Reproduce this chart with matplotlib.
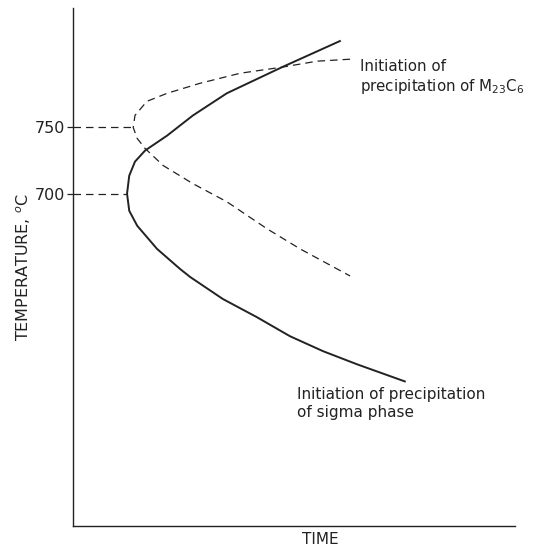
import matplotlib.pyplot as plt

# sigma phase start curve (time in arbitrary units, temperature in deg C)
sigma_time = [60.4, 47.3, 34.8, 27.1, 21.3, 16.3, 14.0, 12.7, 12.2, 12.7, 14.5, 19.0,
              24.2, 26.5, 33.9, 41.6, 49.1, 56.6, 64.3, 75.1]
sigma_temp = [815.2, 795.5, 775.8, 759.0, 743.9, 732.6, 724.2, 713.6, 700, 687.1, 675.8, 658.3,
              643.2, 637.1, 620.5, 606.8, 592.4, 581.1, 571.2, 558.3]

# M23C6 start curve
carb_time = [62.7, 55.2, 47.3, 37.8, 28.7, 21.3, 16.7, 14.0, 13.6, 14.5, 16.3, 20.4,
             27.1, 34.8, 43.9, 51.4, 62.7]
carb_temp = [801.5, 800, 795.5, 790.9, 783.3, 775.8, 769.7, 759.1, 750, 741.7, 734.1, 721.2,
             707.6, 693.9, 673.5, 658.3, 637.9]

# nose positions marked on the temperature axis
nose_temp = [750, 700]
nose_time = [13.6, 12.2]

ink = '#222222'
plt.rcParams['font.family'] = ['DejaVu Sans']

fig = plt.figure(figsize=(5.34, 5.47), dpi=100)
ax = fig.add_axes([0.137, 0.038, 0.827, 0.947])

ax.plot(sigma_time, sigma_temp, color=ink, lw=1.4, solid_joinstyle='round')
ax.plot(carb_time, carb_temp, color=ink, lw=0.9, dashes=(6, 4))
for t, T in zip(nose_time, nose_temp):
    ax.plot([0, t], [T, T], color=ink, lw=0.9, dashes=(6, 4))

ax.set_xlim(0, 100)
ax.set_ylim(449, 840)
ax.set_xticks([])
ax.set_yticks(nose_temp)
ax.set_yticklabels([str(v) for v in nose_temp], fontsize=11.5, color=ink)
ax.tick_params(axis='y', direction='out', length=4, width=0.9, color=ink, pad=2)
for side in ['top', 'right']:
    ax.spines[side].set_visible(False)
for side in ['left', 'bottom']:
    ax.spines[side].set_color(ink)
    ax.spines[side].set_linewidth(1.0)

ax.set_ylabel('TEMPERATURE, $^o$C', fontsize=11.5, color=ink)
ax.yaxis.set_label_coords(-0.09, 0.50)
ax.set_xlabel('TIME', fontsize=11, color=ink)
ax.xaxis.set_label_coords(0.56, -0.012)

ax.text(64.9, 801.5, 'Initiation of\nprecipitation of M$_{23}$C$_6$',
        fontsize=10.8, color=ink, va='top', ha='left', linespacing=1.2)
ax.text(50.7, 554, 'Initiation of precipitation\nof sigma phase',
        fontsize=11, color=ink, va='top', ha='left', linespacing=1.25)

fig.savefig('out.png', dpi=100)
